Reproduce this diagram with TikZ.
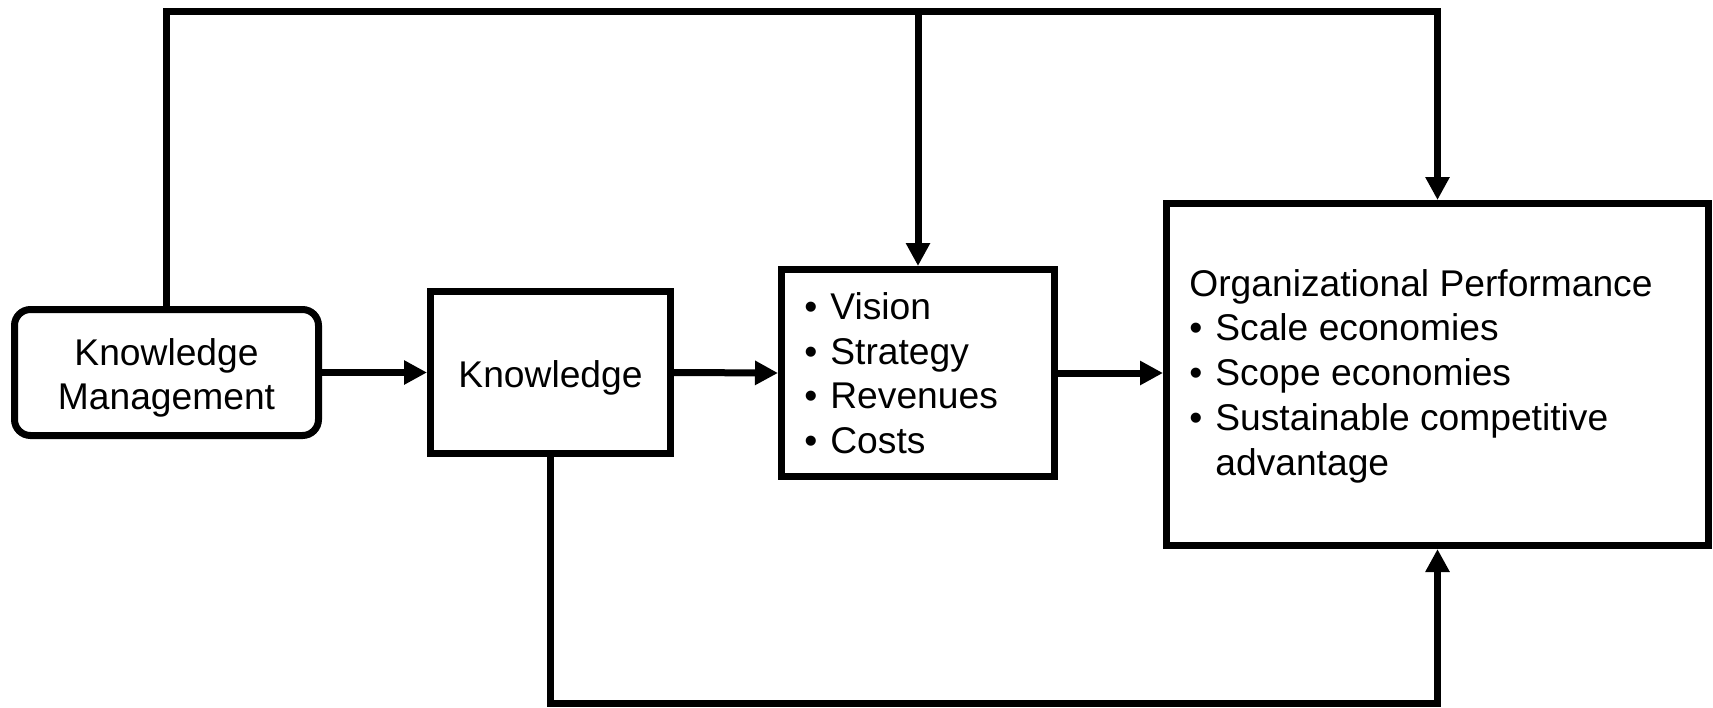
\documentclass[tikz,border=0pt]{standalone}
\usepackage{fontspec}
\setmainfont{Liberation Sans}
\usetikzlibrary{arrows.meta}
\newcommand{\bul}{\makebox[13pt][l]{\textbullet}}
\begin{document}
\begin{tikzpicture}[x=0.5pt,y=-0.5pt,
  every node/.style={font={\fontsize{18.6pt}{22.2pt}\selectfont}},
  boxnode/.style={draw,line width=3.5pt,inner sep=0pt},
  txt/.style={inner sep=0pt,align=left},
  conn/.style={line width=3.5pt},
  arr/.style={conn,-{Triangle[width=11.5pt,length=11.5pt]}}]
\useasboundingbox (0,0) rectangle (1713,707);
\node[boxnode,rounded corners=8pt,minimum width=152pt,minimum height=63pt] (km) at (166.5,372.5) {};
\node[boxnode,minimum width=120pt,minimum height=81pt] (kn) at (550.5,372.5) {};
\node[boxnode,minimum width=136.5pt,minimum height=103.5pt] (vis) at (918,373) {};
\node[boxnode,minimum width=271pt,minimum height=171pt] (op) at (1437.5,374.5) {};
\node[inner sep=0pt,align=center] (kmtxt) at (166.5,378) {Knowledge\\Management};
\node[inner sep=0pt] (kntxt) at (550.5,378) {Knowledge};
\node[txt,anchor=base west] (vistxt) at (804,453) {\bul Vision\\\bul Strategy\\\bul Revenues\\\bul Costs};
\node[txt,anchor=base west,font={\fontsize{18.6pt}{22.4pt}\selectfont}] (optxt) at (1189,475.2) {Organizational Performance\\\bul Scale economies\\\bul Scope economies\\\bul Sustainable competitive\\\hspace*{13pt}advantage};
\coordinate (top) at (0,11);
\coordinate (bot) at (0,703);
\draw[arr] (km.east) -- (kn.west);
\draw[arr] (kn.east) -- (vis.west);
\draw[arr] (vis.east) -- (op.west |- vis.east);
\draw[arr] (km.north) |- (op.north |- top) -- (op.north);
\draw[arr] (vis.north |- top) -- (vis.north);
\draw[arr] (kn.south) |- (op.south |- bot) -- (op.south);
\end{tikzpicture}
\end{document}
